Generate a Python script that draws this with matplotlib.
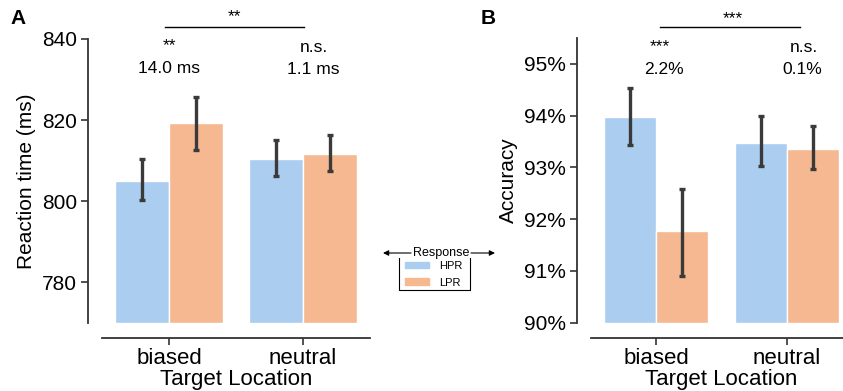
import numpy as np
import matplotlib
matplotlib.use("Agg")
import matplotlib.pyplot as plt
from matplotlib.patches import Patch

plt.rcParams['font.family'] = ['Liberation Sans', 'DejaVu Sans']

# data
locations = ['biased', 'neutral']
responses = ['HPR', 'LPR']
rt_mean = {'HPR': [805.1, 810.5], 'LPR': [819.2, 811.6]}
rt_lo = {'HPR': [800.2, 806.2], 'LPR': [812.7, 807.5]}
rt_hi = {'HPR': [810.4, 815.2], 'LPR': [825.8, 816.3]}
acc_mean = {'HPR': [93.97, 93.47], 'LPR': [91.77, 93.36]}
acc_lo = {'HPR': [93.43, 93.03], 'LPR': [90.90, 92.96]}
acc_hi = {'HPR': [94.53, 93.99], 'LPR': [92.58, 93.80]}
rt_diff_labels = ['14.0 ms', '1.1 ms']
acc_diff_labels = ['2.2%', '0.1%']
rt_stars = ['**', 'n.s.']
acc_stars = ['***', 'n.s.']

colors = {'HPR': '#abcdf0', 'LPR': '#f5b891'}
W, H = 843, 391
fig = plt.figure(figsize=(W / 100, H / 100), dpi=100)

def fbox(x0, y0, x1, y1):  # pixel box (top-left origin) -> fig fraction
    return [x0 / W, 1 - y1 / H, (x1 - x0) / W, (y1 - y0) / H]

axA = fig.add_axes(fbox(102, 39, 370, 323))
axB = fig.add_axes(fbox(591, 38, 852, 322.7))

def draw(ax, mean, lo, hi, ylim, base):
    x = np.arange(len(locations))
    for i, r in enumerate(responses):
        xs = x - 0.2 + 0.4 * i
        m = np.array(mean[r])
        ax.bar(xs, m - base, bottom=base, width=0.4, color=colors[r],
               edgecolor='white', linewidth=1)
        ax.errorbar(xs, m, yerr=[m - np.array(lo[r]), np.array(hi[r]) - m],
                    fmt='none', ecolor='#3a3a3a', elinewidth=2.4,
                    capsize=2.2, capthick=2.4)
    ax.set_xlim(-0.5, 1.5)
    ax.set_ylim(*ylim)
    ax.set_xticks(x)
    ax.set_xticklabels(locations, fontsize=16)
    ax.set_xlabel('Target Location', fontsize=16, labelpad=0)
    for s in ['top', 'right']:
        ax.spines[s].set_visible(False)
    ax.spines['left'].set_position(('outward', 10))
    ax.spines['bottom'].set_position(('outward', 11))
    for s in ['left', 'bottom']:
        ax.spines[s].set_color('#333333')
        ax.spines[s].set_linewidth(1.3)
    ax.tick_params(axis='both', length=5, width=1.2, color='#333333', pad=3)
    ax.tick_params(axis='y', labelsize=15)
    ax.tick_params(axis='x', labelsize=16, pad=2)

draw(axA, rt_mean, rt_lo, rt_hi, (770, 840), 770)
axA.set_yticks([780, 800, 820, 840])
axA.set_ylabel('Reaction time (ms)', fontsize=15, labelpad=4)

draw(axB, acc_mean, acc_lo, acc_hi, (90, 95.5), 90)
axB.set_yticks([90, 91, 92, 93, 94, 95])
axB.set_yticklabels(['%d%%' % v for v in range(90, 96)])
axB.set_ylabel('Accuracy', fontsize=15, labelpad=4)

# significance annotations
tfs = 12.5
axA.plot([-0.03, 1.007], [843, 843], color='black', lw=1, clip_on=False)
axA.text(0.49, 843.6, '**', ha='center', va='bottom', fontsize=tfs)
axA.text(0.0, 838.4, rt_stars[0], ha='center', va='center', fontsize=tfs)
axA.text(1.08, 837.8, rt_stars[1], ha='center', va='center', fontsize=tfs)
axA.text(0.0, 832.8, rt_diff_labels[0], ha='center', va='center', fontsize=tfs)
axA.text(1.08, 832.6, rt_diff_labels[1], ha='center', va='center', fontsize=tfs)

axB.plot([0.03, 1.10], [95.71, 95.71], color='black', lw=1, clip_on=False)
axB.text(0.59, 95.73, '***', ha='center', va='bottom', fontsize=tfs)
axB.text(0.03, 95.33, acc_stars[0], ha='center', va='center', fontsize=tfs)
axB.text(1.13, 95.31, acc_stars[1], ha='center', va='center', fontsize=tfs)
axB.text(0.06, 94.9, acc_diff_labels[0], ha='center', va='center', fontsize=tfs)
axB.text(1.12, 94.9, acc_diff_labels[1], ha='center', va='center', fontsize=tfs)

# panel letters
fig.text(18 / W, 1 - 18 / H, 'A', fontsize=15, fontweight='bold', ha='center', va='center')
fig.text(488 / W, 1 - 18 / H, 'B', fontsize=15, fontweight='bold', ha='center', va='center')

# legend between panels
handles = [Patch(color=colors[r], label=r) for r in responses]
leg = fig.legend(handles=handles, loc='upper left', bbox_to_anchor=(405 / W, 1 - 261 / H),
                 frameon=False, fontsize=8, handlelength=2.2, handleheight=0.55,
                 handletextpad=0.9, labelspacing=0.6, borderpad=0, borderaxespad=0)
fig.text(441 / W, 1 - 253 / H, 'Response', fontsize=9, ha='center', va='center')
ay = H - 253
for x0, x1 in [(411, 383), (471, 495)]:
    axA.annotate('', xy=(x1, ay), xytext=(x0, ay), xycoords='figure pixels',
                 textcoords='figure pixels', annotation_clip=False,
                 arrowprops=dict(arrowstyle='-|>', color='black', lw=0.8,
                                 mutation_scale=8, shrinkA=0, shrinkB=0))
px = [399, 399, 470, 470]
py = [258, 290, 290, 258]
fig.add_artist(plt.Line2D([x / W for x in px], [1 - y / H for y in py],
                          color='black', lw=0.8))

fig.savefig('out.png', dpi=100)
